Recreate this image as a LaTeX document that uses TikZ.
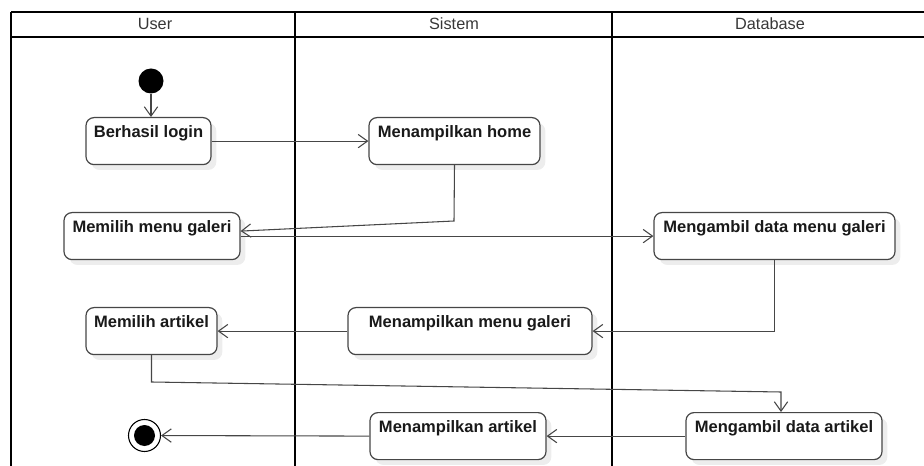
\documentclass[tikz,border=0pt]{standalone}
\usepackage{fontspec}
\usepackage{tikz}
\usetikzlibrary{arrows.meta,calc,shadows}
\newfontfamily\umlfont{Liberation Sans}
\definecolor{lanecol}{RGB}{0,0,0}
\definecolor{linecol}{RGB}{70,70,70}
\definecolor{textcol}{RGB}{25,25,25}
\definecolor{headcol}{RGB}{55,55,55}
\tikzset{
  lane/.style={draw=lanecol, line width=1.5pt},
  lanehead/.style={font=\umlfont\fontsize{12.2}{14}\selectfont, text=headcol, inner sep=0.75pt},
  activity/.style={draw=linecol, line width=0.9pt, rounded corners=6pt, fill=white,
    drop shadow={shadow xshift=4pt, shadow yshift=-4pt, opacity=0.07, fill=black},
    font=\umlfont\bfseries\fontsize{12.4}{15}\selectfont, text=textcol,
    inner xsep=5.5pt, inner ysep=0pt, text height=15pt, text depth=20.25pt, anchor=north},
  flow/.style={draw=linecol, line width=0.8pt, -{Straight Barb[length=7pt,width=10pt,line width=0.8pt]}},
}

\begin{document}
\begin{tikzpicture}[x=0.75pt,y=0.75pt,yscale=-1,xscale=1]
    \useasboundingbox (0,0) rectangle (924,466);

    %Swimlanes
    \draw [lane] (11,12) -- (924,12);
    \draw [lane] (11,37) -- (924,37);
    \draw [lane] (11,12) -- (11,466);
    \draw [lane, line width=2.2pt] (295,12) -- (295,466);
    \draw [lane] (612,12) -- (612,466);

    % Lane headers
    \node [lanehead] (hUser) at (155,24) {User};
    \node [lanehead] (hSistem) at (454,24) {Sistem};
    \node [lanehead] (hDatabase) at (770,24) {Database};

    % Initial and final nodes
    \node [circle, fill=black, inner sep=0pt, minimum size=18.75pt] (start) at (151,81) {};
    \node [circle, draw=black, line width=0.8pt, fill=white, inner sep=0pt, minimum size=24pt] (finish) at (144.5,435.5) {};
    \fill [black] (finish.center) circle (10.5);

    % Activities
    \node [activity, minimum width=93.75pt] (login) at (148.5,117) {Berhasil login};
    \node [activity, minimum width=128.25pt] (home) at (454.5,117) {Menampilkan home};
    \node [activity, minimum width=132pt] (pilihGaleri) at (152,212) {Memilih menu galeri};
    \node [activity, minimum width=180.75pt] (ambilGaleri) at (774.5,212) {Mengambil data menu galeri};
    \node [activity, minimum width=183pt] (tampilGaleri) at (470,307) {Menampilkan menu galeri};
    \node [activity, minimum width=98.25pt] (pilihArtikel) at (151.5,307) {Memilih artikel};
    \node [activity, minimum width=147pt] (ambilArtikel) at (784,412) {Mengambil data artikel};
    \node [activity, minimum width=132pt] (tampilArtikel) at (458,412) {Menampilkan artikel};

    % Bend points
    \coordinate (b1) at (454,221);
    \coordinate (b2) at (150,382);
    \coordinate (b3) at (781,392);

    % Flows
    \draw [flow] (start) -- (start |- login.north);
    \draw [flow] (login.east) -- (home.west);
    \draw [flow] (home.south) -- (b1) -- ($(pilihGaleri.east)+(0,-5)$);
    \draw [flow] (pilihGaleri.east) -- (ambilGaleri.west);
    \draw [flow] (ambilGaleri.south) |- (tampilGaleri.east);
    \draw [flow] (tampilGaleri.west) -- (pilihArtikel.east);
    \draw [flow] (pilihArtikel.south) -- (pilihArtikel.south |- b2) -- (b3) -- (b3 |- ambilArtikel.north);
    \draw [flow] (ambilArtikel.west) -- (tampilArtikel.east);
    \draw [flow] (tampilArtikel.west) -- (finish);
\end{tikzpicture}
\end{document}
